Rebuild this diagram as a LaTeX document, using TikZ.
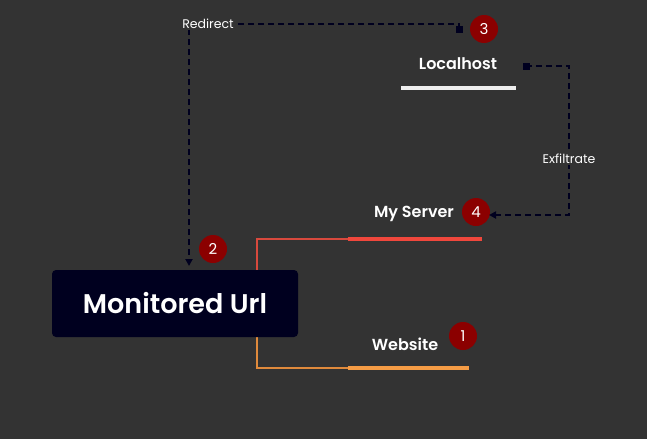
\documentclass[tikz,border=0pt]{standalone}
\usepackage{fontspec}
\setmainfont{Poppins}
\newfontfamily\pmed{Poppins SemiBold}
\usetikzlibrary{arrows.meta,backgrounds}
\definecolor{bg}{HTML}{333333}
\definecolor{navy}{HTML}{00001F}
\definecolor{badge}{HTML}{8B0000}
\definecolor{redbar}{HTML}{F0473C}
\definecolor{orangebar}{HTML}{F59C45}
\definecolor{lightbar}{HTML}{EEEEEE}
\definecolor{redline}{HTML}{D8493D}
\definecolor{orangeline}{HTML}{E08A3C}
\tikzset{
  badgenode/.style={circle,fill=badge,text=white,inner sep=0pt,minimum size=28pt,font=\fontsize{15}{15}\selectfont},
  lbl/.style={text=white,font=\pmed\fontsize{16}{16}\selectfont,inner sep=0pt},
  bar/.style={line width=4.5pt},
  flow/.style={draw=navy,line width=1.8pt,dash pattern=on 6pt off 4pt},
  edgelbl/.style={fill=bg,text=white,font=\fontsize{12.5}{12.5}\selectfont,inner sep=1.5pt},
  sq/.style={fill=navy,minimum size=7pt,inner sep=0pt},
}
\begin{document}
\begin{tikzpicture}[x=1pt,y=-1pt]
\fill[bg] (0,0) rectangle (647,439);
\useasboundingbox (0,0) rectangle (647,439);
% bars
\coordinate (sbL) at (348,239); \coordinate (sbR) at (482,239);
\coordinate (wbL) at (348,368); \coordinate (wbR) at (469,368);
\coordinate (lbL) at (401,88); \coordinate (lbR) at (516,88);
\draw[bar,redbar] (sbL) -- (sbR);
\draw[bar,orangebar] (wbL) -- (wbR);
\draw[bar,lightbar] (lbL) -- (lbR);
% connectors from box
\coordinate (jn) at (257,304);
\draw[redline,line width=1.2pt] (jn) |- (sbL);
\draw[orangeline,line width=1.2pt] (jn) |- (wbL);
% main box
\node[fill=navy,rounded corners=4pt,minimum width=246pt,minimum height=67pt,text=white,font=\pmed\fontsize{27}{27}\selectfont] (mu) at (175,303.5) {Monitored Url};
% labels
\node[lbl] (lh) at (458,64) {Localhost};
\node[lbl] (ms) at (414,214) {My Server};
\node[lbl] (ws) at (405,344) {Website};
% badges
\node[badgenode] (b1) at (463,336) {1};
\node[badgenode] (b2) at (213,249) {2};
\node[badgenode] (b3) at (484,29) {3};
\node[badgenode] (b4) at (476,212) {4};
% redirect
\node[sq] (s3) at (459,29) {};
\coordinate (rtop) at (189,24);
\coordinate (rend) at (189,266);
\draw[flow,-{Triangle[length=7pt,width=7pt]}] (s3.center) -- (459,24) -- (rtop) -- (rend);
\node[edgelbl] (rl) at (208,24) {Redirect};
% exfiltrate
\node[sq] (s4) at (526,66) {};
\coordinate (ecorner) at (569,66);
\coordinate (eend) at (489,215);
\draw[flow,-{Triangle[length=7pt,width=7pt]}] (s4.center) -- (ecorner) |- (eend);
\node[edgelbl] (el) at (569,159) {Exfiltrate};
\end{tikzpicture}
\end{document}
